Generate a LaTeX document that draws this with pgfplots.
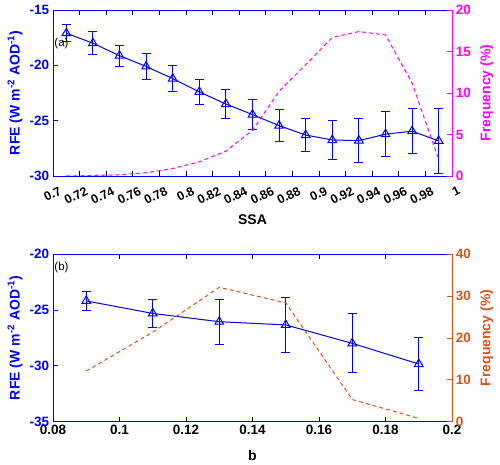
\documentclass[border=0pt]{standalone}
\usepackage{pgfplots}
\pgfplotsset{compat=1.18}
\usepackage{fontspec}
\setmainfont{Liberation Sans}
\definecolor{mblue}{RGB}{0,0,255}
\definecolor{mmag}{RGB}{255,0,255}
\definecolor{morange}{rgb}{0.85,0.325,0.098}
\newcommand{\lblfont}{\bfseries\fontsize{14}{16}\selectfont}
\pgfplotsset{
  base/.style={scale only axis, width=399pt, anchor=south west,
    tick label style={font=\bfseries\fontsize{13.5}{15}\selectfont},
    /pgf/number format/assume math mode=true,
    scaled ticks=false, line width=0.9pt, major tick length=5pt,
    every tick/.style={line width=0.9pt}},
  leftax/.style={axis x line=box, ytick pos=left, xtick pos=both,
    y axis line style={mblue}, ytick style={mblue}, yticklabel style={mblue},
    every axis y label/.style={at={(axis description cs:-0.095,0.5)}, rotate=90, anchor=center, text=mblue, font=\lblfont}},
  rightax/.style={axis x line=none, axis y line*=right, ytick pos=right,
    y axis line style={-,#1}, ytick style={#1}, yticklabel style={#1},
    every axis y label/.style={at={(axis description cs:1.087,0.5)}, rotate=90, anchor=center, text=#1, font=\lblfont}},
  rfe/.style={mblue, line width=1pt, mark=triangle, mark size=5pt, mark options={solid},
    error bars/.cd, y dir=both, y explicit, error bar style={line width=1pt, mblue},
    error mark options={rotate=90, mblue, mark size=4.5pt, line width=1pt}},
}
\begin{document}
\begin{tikzpicture}
\useasboundingbox (0,0) rectangle (500pt,465pt);
% ---------- panel (a)
\begin{axis}[base, leftax, at={(53pt,289pt)}, height=166pt,
  xmin=0.7, xmax=1, ymin=-30, ymax=-15,
  xtick={0.7,0.72,0.74,0.76,0.78,0.8,0.82,0.84,0.86,0.88,0.9,0.92,0.94,0.96,0.98,1},
  xticklabels={0.7,0.72,0.74,0.76,0.78,0.8,0.82,0.84,0.86,0.88,0.9,0.92,0.94,0.96,0.98,1},
  xticklabel style={rotate=27, anchor=north east, xshift=1.5pt, yshift=-10pt, inner sep=1pt, font=\bfseries\fontsize{12.5}{14}\selectfont},
  ytick={-30,-25,-20,-15}, yticklabels={-30,-25,-20,-15},
  xlabel={SSA}, xlabel style={at={(axis description cs:0.5,-0.265)}, anchor=center, font=\lblfont},
  ylabel={RFE (W m\textsuperscript{-2} AOD\textsuperscript{-1})}]
\addplot[rfe] coordinates {
 (0.71,-17.1) +- (0,0.75)
 (0.73,-18.0) +- (0,1.03)
 (0.75,-19.13) +- (0,0.95)
 (0.77,-20.1) +- (0,1.2)
 (0.79,-21.2) +- (0,1.15)
 (0.81,-22.4) +- (0,1.1)
 (0.83,-23.5) +- (0,1.32)
 (0.85,-24.45) +- (0,1.32)
 (0.87,-25.45) +- (0,1.45)
 (0.89,-26.3) +- (0,1.5)
 (0.91,-26.75) +- (0,1.76)
 (0.93,-26.8) +- (0,2.0)
 (0.95,-26.22) +- (0,2.03)
 (0.97,-25.95) +- (0,2.05)
 (0.99,-26.83) +- (0,2.9)
};
\node[anchor=west, inner sep=1pt, font=\fontsize{11.5}{13}\selectfont] at (axis description cs:0.0,0.795) {(a)};
\end{axis}
\begin{axis}[base, rightax=mmag, at={(53pt,289pt)}, height=166pt,
  xmin=0.7, xmax=1, ymin=0, ymax=20,
  ytick={0,5,10,15,20}, yticklabels={0,5,10,15,20},
  ylabel={Frequency (\%)}]
\addplot[mmag, line width=1pt, dashed, dash pattern=on 4pt off 3pt] coordinates {
 (0.71,0.0) (0.73,0.05) (0.75,0.15) (0.77,0.4) (0.79,0.9) (0.81,1.7) (0.83,3.0)
 (0.85,5.5) (0.87,10.2) (0.89,13.4) (0.91,16.7) (0.93,17.4) (0.95,17.0) (0.97,11.2) (0.99,2.0)
};
\end{axis}
% ---------- panel (b)
\begin{axis}[base, leftax, at={(53pt,43.3pt)}, height=167.4pt,
  xmin=0.08, xmax=0.2, ymin=-35, ymax=-20,
  xtick={0.08,0.1,0.12,0.14,0.16,0.18,0.2},
  xticklabels={0.08,0.1,0.12,0.14,0.16,0.18,0.2},
  ytick={-35,-30,-25,-20}, yticklabels={-35,-30,-25,-20},
  xlabel={b}, xlabel style={at={(axis description cs:0.5,-0.199)}, anchor=center, font=\lblfont},
  ylabel={RFE (W m\textsuperscript{-2} AOD\textsuperscript{-1})}]
\addplot[rfe] coordinates {
 (0.09,-24.18) +- (0,0.85)
 (0.11,-25.3) +- (0,1.22)
 (0.13,-26.04) +- (0,2.0)
 (0.15,-26.33) +- (0,2.5)
 (0.17,-27.98) +- (0,2.65)
 (0.19,-29.83) +- (0,2.4)
};
\node[anchor=west, inner sep=1pt, font=\fontsize{11.5}{13}\selectfont] at (axis description cs:0.0,0.92) {(b)};
\end{axis}
\begin{axis}[base, rightax=morange, at={(53pt,43.3pt)}, height=167.4pt,
  xmin=0.08, xmax=0.2, ymin=0, ymax=40,
  ytick={0,10,20,30,40}, yticklabels={0,10,20,30,40},
  ylabel={Frequency (\%)}]
\addplot[morange, line width=1pt, dashed, dash pattern=on 4pt off 3pt] coordinates {
 (0.09,12.1) (0.11,21.4) (0.13,32.1) (0.15,28.4) (0.17,5.3) (0.19,0.8)
};
\end{axis}
\end{tikzpicture}
\end{document}
